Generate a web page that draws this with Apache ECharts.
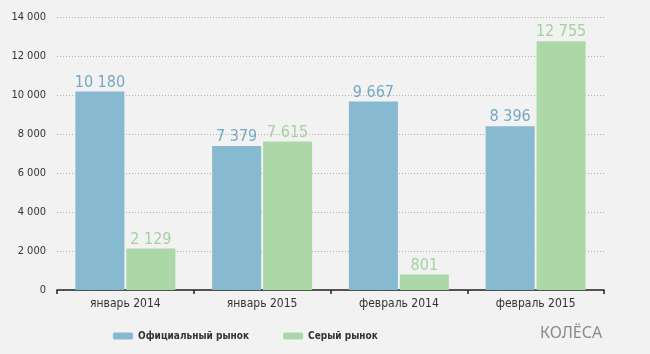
<!DOCTYPE html>
<html><head><meta charset="utf-8">
<script src="https://cdn.jsdelivr.net/npm/echarts@6/dist/echarts.min.js"></script>
<style>html,body{margin:0;padding:0;background:#f2f2f2}#c{width:650px;height:354px}</style>
</head><body><div id="c"></div>
<script>
var categories = ['январь 2014', 'январь 2015', 'февраль 2014', 'февраль 2015'];
var officialMarket = [10180, 7379, 9667, 8396];
var greyMarket = [2129, 7615, 801, 12755];
var seriesNames = ['Официальный рынок', 'Серый рынок'];

function fmt(v) { return String(v).replace(/\B(?=(\d{3})+(?!\d))/g, ' '); }
var FF = '"DejaVu Sans Condensed", "Noto Sans", sans-serif';

var chart = echarts.init(document.getElementById('c'));
chart.setOption({
  backgroundColor: '#f2f2f2',
  animation: false,
  grid: { left: 57, right: 46, top: 17, bottom: 64 },
  legend: {
    left: 108, top: 326, itemWidth: 20, itemHeight: 7, itemGap: 34,
    icon: 'roundRect',
    textStyle: { fontFamily: FF, fontSize: 10, fontWeight: 'bold', color: '#333' },
    data: seriesNames
  },
  xAxis: {
    type: 'category', data: categories,
    axisLine: { lineStyle: { color: '#222', width: 1.5 } },
    axisTick: { show: true, length: 4, lineStyle: { color: '#222', width: 1.5 } },
    axisLabel: { color: '#333', fontSize: 12, margin: 8, fontFamily: FF }
  },
  yAxis: {
    type: 'value', min: 0, max: 14000, interval: 2000,
    axisLine: { show: false }, axisTick: { show: false },
    axisLabel: { color: '#333', fontSize: 11, margin: 11, formatter: fmt, fontFamily: FF },
    splitLine: { lineStyle: { color: '#b0b0b0', type: [1, 2], width: 1 } }
  },
  series: [
    {
      name: seriesNames[0], type: 'bar', data: officialMarket, barWidth: 49, barGap: '4%',
      itemStyle: { color: '#87b9d0' },
      label: { show: true, position: 'top', distance: 1, color: '#74a9c3', fontSize: 16, formatter: function (p) { return fmt(p.value); }, fontFamily: FF }
    },
    {
      name: seriesNames[1], type: 'bar', data: greyMarket, barWidth: 49,
      itemStyle: { color: '#acd8a8' },
      label: { show: true, position: 'top', distance: 1, color: '#a3d29e', fontSize: 16, formatter: function (p) { return fmt(p.value); }, fontFamily: FF }
    }
  ],
  graphic: [{
    type: 'text', left: 540, top: 325,
    style: { text: 'КОЛЁСА', fill: '#8a8a8a', fontSize: 16, fontFamily: 'Noto Sans, sans-serif', letterSpacing: 2 }
  }]
});
</script></body></html>
